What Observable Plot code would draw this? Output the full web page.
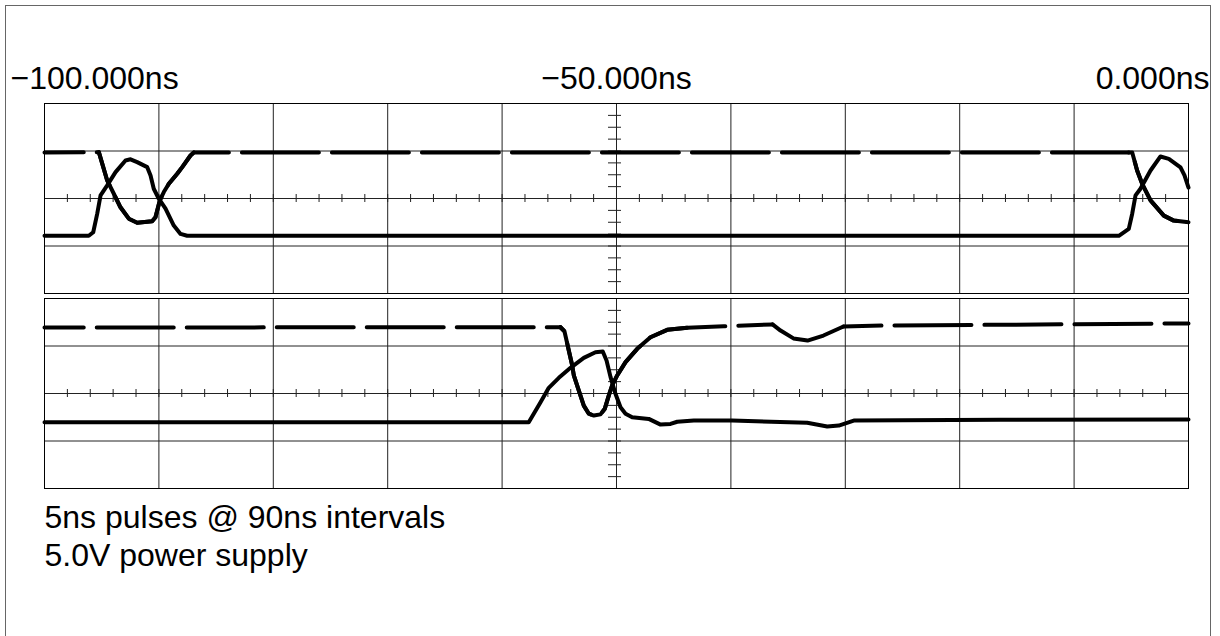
<!DOCTYPE html>
<html>
<head>
<meta charset="utf-8">
<script src="https://cdn.jsdelivr.net/npm/d3@7"></script>
<script src="https://cdn.jsdelivr.net/npm/@observablehq/plot@0.6"></script>
<style>
html, body { margin: 0; padding: 0; background: #fff; overflow: hidden; }
#wrap { position: relative; width: 1220px; height: 636px; }
#chart { position: absolute; left: 0; top: 0; }
#border { position: absolute; left: 5px; top: 5px; width: 1206px; height: 700px;
  border: 1.5px solid #666; box-sizing: border-box; pointer-events: none; }
</style>
</head>
<body>
<div id="wrap"><div id="chart"></div><div id="border"></div></div>
<script>
// ---- data ----
const channels = ["CH1", "CH2"];
const timeLabelValues = [-100, -50, 0];
const timeLabels = ["\u2212100.000ns", "\u221250.000ns", "0.000ns"];
const captionLines = ["5ns pulses @ 90ns intervals", "5.0V power supply"];

// CH1 dashed trace (ns, V)
const ch1aTime = [-100, -95.25, -94.52, -93.94, -93.36, -92.63, -91.90, -90.59, -90.30, -89.92, -89.57, -89.13, -88.40, -87.96, -87.24, -86.95, -5.24, -4.92, -4.49, -4.05, -3.32, -2.16, -1.29, 0];
const ch1aVolts = [1.94, 1.95, 0.76, 0.20, -0.37, -0.85, -1.02, -0.96, -0.79, -0.08, 0.27, 0.62, 1.04, 1.32, 1.81, 1.94, 1.94, 1.94, 1.18, 0.62, -0.08, -0.72, -0.93, -1.00];
// CH1 solid trace
const ch1bTime = [-100, -96.13, -95.74, -95.39, -95.10, -94.52, -93.79, -92.92, -92.48, -91.90, -91.02, -90.73, -90.45, -90.01, -89.42, -88.70, -88.11, -87.53, -6.09, -5.22, -4.92, -4.63, -4.20, -3.32, -2.45, -1.72, -0.70, -0.35, 0];
const ch1bVolts = [-1.57, -1.57, -1.42, -0.64, 0.13, 0.55, 1.11, 1.60, 1.65, 1.53, 1.32, 0.97, 0.41, -0.01, -0.43, -1.14, -1.49, -1.57, -1.57, -1.28, -0.64, 0.13, 0.41, 1.18, 1.77, 1.67, 1.31, 0.97, 0.46];
// CH2 dashed trace
const ch2aTime = [-100, -54.90, -54.55, -54.17, -53.87, -53.73, -53.30, -52.86, -52.42, -51.98, -51.40, -51.02, -50.67, -50.38, -49.94, -49.21, -48.19, -47.03, -45.57, -43.82, -40.62, -36.36, -35.66, -34.53, -33.30, -31.91, -30.16, -26.66, 0];
const ch2aVolts = [2.78, 2.79, 2.62, 1.81, 1.18, 0.76, 0.13, -0.51, -0.85, -0.93, -0.88, -0.64, -0.08, 0.34, 0.76, 1.32, 1.88, 2.37, 2.68, 2.77, 2.83, 2.91, 2.65, 2.32, 2.23, 2.44, 2.82, 2.86, 2.95];
// CH2 solid trace
const ch2bTime = [-100, -57.67, -56.64, -55.92, -55.04, -54.02, -52.86, -51.84, -51.20, -50.87, -50.52, -50.09, -49.65, -49.21, -48.63, -47.18, -46.15, -45.28, -44.69, -43.24, -39.89, -33.33, -31.58, -30.57, -29.26, -16.43, 0];
const ch2bVolts = [-1.21, -1.21, -0.37, 0.24, 0.66, 1.08, 1.50, 1.74, 1.77, 1.39, 0.69, -0.01, -0.58, -0.85, -1.00, -1.07, -1.31, -1.28, -1.19, -1.14, -1.14, -1.23, -1.39, -1.35, -1.14, -1.11, -1.09];

// ---- build tables ----
const rows = (ch, ts, vs) => ts.map((t, i) => ({ch, t, v: vs[i]}));
const ch1a = rows("CH1", ch1aTime, ch1aVolts);
const ch1b = rows("CH1", ch1bTime, ch1bVolts);
const ch2a = rows("CH2", ch2aTime, ch2aVolts);
const ch2b = rows("CH2", ch2bTime, ch2bVolts);
const labels = timeLabelValues.map((t, i) => ({t, label: timeLabels[i]}));

// graticule
const gridT = d3.range(-100, 0.001, 10);
const gridV = d3.range(-4, 4.001, 2);
const minorT = d3.range(-100, 0.001, 2);
const minorV = d3.range(-4, 4.001, 0.5);

const font = "'Liberation Sans', Arial, Helvetica, sans-serif";
const fs = 32;
const trace = {x: "t", y: "v", fy: "ch", stroke: "#000", strokeWidth: 4,
  strokeLinecap: "round", strokeLinejoin: "round"};
const dashed = {...trace, strokeDasharray: "77,13"};

const chart = Plot.plot({
  width: 1220,
  height: 636,
  marginLeft: 44,
  marginRight: 32,
  marginTop: 103,
  marginBottom: 148,
  x: {domain: [-100, 0], axis: null},
  y: {domain: [-4, 4], axis: null},
  fy: {domain: channels, axis: null, paddingInner: 5 / 195, paddingOuter: 0, round: false},
  style: {background: "transparent", fontFamily: font},
  marks: [
    Plot.ruleX(gridT, {stroke: "#222", strokeWidth: 1}),
    Plot.ruleY(gridV, {stroke: "#222", strokeWidth: 1}),
    Plot.ruleX(minorT, {x: d => d, y1: () => 0, y2: () => 0, insetTop: -4, insetBottom: -4, stroke: "#222"}),
    Plot.ruleY(minorV, {y: d => d, x1: () => -50, x2: () => -50, insetLeft: -8, insetRight: -5, stroke: "#222"}),
    Plot.frame({stroke: "#000", strokeWidth: 1}),
    // solid traces
    Plot.line(ch1b, trace),
    Plot.line(ch2b, trace),
    // dashed traces: flat runs dashed, transitions drawn solid
    Plot.line(ch1a.slice(0, 2), {...dashed, strokeDashoffset: 37.75}),
    Plot.line(ch1a.slice(1), {...dashed, strokeDashoffset: 42.3}),
    Plot.line(ch1a.slice(1, 16), trace),
    Plot.line(ch1a.slice(16), trace),
    Plot.line(ch2a.slice(0, 2), {...dashed, strokeDashoffset: 37.75}),
    Plot.line(ch2a.slice(1, 22), {...dashed, strokeDashoffset: 72.4}),
    Plot.line(ch2a.slice(26), {...dashed, strokeDashoffset: 39}),
    Plot.line(ch2a.slice(1, 20), trace),
    Plot.line(ch2a.slice(21, 27), trace),
    // time labels
    Plot.text(labels.slice(0, 1), {x: "t", text: "label", fy: () => "CH1", frameAnchor: "top",
      textAnchor: "start", lineAnchor: "bottom", dy: -15, dx: -34, fontSize: fs, fill: "#000"}),
    Plot.text(labels.slice(1, 2), {x: "t", text: "label", fy: () => "CH1", frameAnchor: "top",
      textAnchor: "middle", lineAnchor: "bottom", dy: -15, fontSize: fs, fill: "#000"}),
    Plot.text(labels.slice(2, 3), {x: "t", text: "label", fy: () => "CH1", frameAnchor: "top",
      textAnchor: "end", lineAnchor: "bottom", dy: -15, dx: 21, fontSize: fs, fill: "#000"}),
    // caption
    Plot.text([captionLines.join("\n")], {text: d => d, fy: () => "CH2", frameAnchor: "bottom-left",
      textAnchor: "start", lineAnchor: "bottom", dy: 77, lineHeight: 38 / fs, fontSize: fs, fill: "#000"})
  ]
});
document.getElementById("chart").appendChild(chart);
</script>
</body>
</html>
